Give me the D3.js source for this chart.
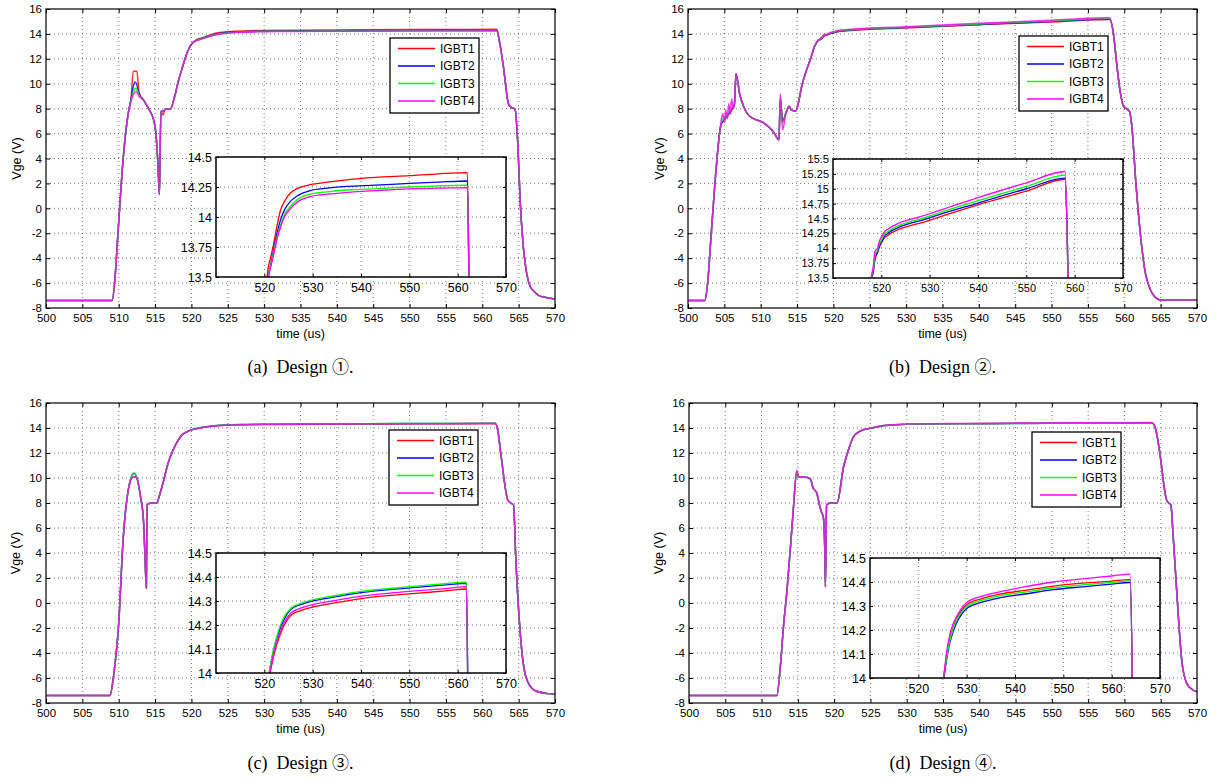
<!DOCTYPE html>
<html>
<head>
<meta charset="utf-8">
<script src="https://cdn.jsdelivr.net/npm/d3@7"></script>
<style>
body { margin: 0; background: #fff; }
svg text { font-family: "Liberation Sans", Arial, Helvetica, sans-serif; }
.grid { stroke: #555; stroke-width: 0.8; stroke-dasharray: 1,3; }
svg text.caption { font-family: "Liberation Serif", "Times New Roman", serif; white-space: pre; }
svg text.caption tspan.num { font-family: "Noto Sans CJK JP", "DejaVu Sans", sans-serif; }
</style>
</head>
<body>
<svg width="1216" height="780"></svg>
<script>
var names = ["IGBT1", "IGBT2", "IGBT3", "IGBT4"];
var colors = ["#ff0000", "#0000ff", "#00ff00", "#ff00ff"];

var mainXTicks = [500, 505, 510, 515, 520, 525, 530, 535, 540, 545, 550, 555, 560, 565, 570];
var mainYTicks = [-8, -6, -4, -2, 0, 2, 4, 6, 8, 10, 12, 14, 16];
var insetXTicks = [520, 530, 540, 550, 560, 570];
var insetYTicksA = [13.5, 13.75, 14, 14.25, 14.5];
var insetYTicksB = [13.5, 13.75, 14, 14.25, 14.5, 14.75, 15, 15.25, 15.5];
var insetYTicksC = [14, 14.1, 14.2, 14.3, 14.4, 14.5];
var insetYTicksD = [14, 14.1, 14.2, 14.3, 14.4, 14.5];

// (a) Design 1
var timeA = [500, 509.1, 509.5, 509.9, 510.6, 511.3, 511.7, 512.0, 512.3, 512.5, 512.8, 513.4, 514.2, 514.8, 515.1, 515.4, 515.6, 515.8, 516.1, 516.4,
  517.1, 517.7, 518.2, 518.7, 519.3, 519.8, 520.2, 520.7, 521.3, 521.9, 522.6, 523.3, 524.3, 525.4, 527.0, 529.5, 533.0, 537.1, 543.0, 550.0,
  556.0, 562.0, 562.3, 562.9, 563.6, 564.0, 564.5, 564.9, 565.2, 565.6, 566.1, 566.6, 567.0, 567.8, 568.9, 570.0];
var vgeA1 = [-7.4, -7.4, -5.5, -2.0, 3.9, 7.6, 8.8, 11.0, 11.0, 11.0, 9.3, 8.7, 7.9, 7.1, 6.1, 3.5, 1.1, 7.8, 7.5, 7.95,
  7.95, 9.0, 10.2, 11.2, 12.3, 13.0, 13.3, 13.55, 13.66, 13.77, 13.92, 14.05, 14.14, 14.2, 14.24, 14.27, 14.29, 14.31, 14.33, 14.345,
  14.36, 14.37, 13.6, 11.4, 8.4, 8.1, 7.95, 5.0, 0.7, -2.8, -5.2, -6.3, -6.6, -7.0, -7.17, -7.27];
var vgeA2 = [-7.4, -7.4, -5.5, -2.0, 3.9, 7.6, 8.8, 9.8, 10.15, 9.9, 9.2, 8.7, 7.9, 7.1, 6.1, 3.5, 1.1, 7.8, 7.8, 7.95,
  7.95, 9.0, 10.2, 11.2, 12.3, 13.0, 13.3, 13.48, 13.6, 13.72, 13.86, 13.97, 14.07, 14.13, 14.18, 14.22, 14.24, 14.255, 14.265, 14.28,
  14.29, 14.30, 13.6, 11.4, 8.4, 8.1, 7.95, 5.0, 0.7, -2.8, -5.2, -6.3, -6.6, -7.0, -7.17, -7.27];
var vgeA3 = [-7.4, -7.4, -5.5, -2.0, 3.9, 7.6, 8.7, 9.3, 9.65, 9.5, 9.1, 8.7, 7.9, 7.1, 6.1, 3.5, 1.1, 7.8, 7.8, 7.95,
  7.95, 9.0, 10.2, 11.2, 12.3, 13.0, 13.3, 13.47, 13.59, 13.70, 13.83, 13.93, 14.03, 14.09, 14.15, 14.19, 14.21, 14.225, 14.235, 14.25,
  14.26, 14.265, 13.6, 11.4, 8.4, 8.1, 7.95, 5.0, 0.7, -2.8, -5.2, -6.3, -6.6, -7.0, -7.17, -7.27];
var vgeA4 = [-7.4, -7.4, -5.5, -2.0, 3.9, 7.6, 8.6, 9.1, 9.35, 9.3, 9.0, 8.7, 7.9, 7.1, 6.1, 3.5, 1.1, 7.8, 7.8, 7.95,
  7.95, 9.0, 10.2, 11.2, 12.3, 13.0, 13.3, 13.46, 13.58, 13.68, 13.81, 13.91, 14.01, 14.07, 14.13, 14.17, 14.19, 14.205, 14.22, 14.235,
  14.24, 14.245, 13.6, 11.4, 8.4, 8.1, 7.95, 5.0, 0.7, -2.8, -5.2, -6.3, -6.6, -7.0, -7.17, -7.27];

// (b) Design 2
var timeB = [500, 502.3, 502.7, 503.2, 503.9, 504.4, 504.6, 504.8, 505.0, 505.2, 505.4, 505.6, 505.8, 506.0, 506.2, 506.4, 506.6, 507.1, 507.7, 508.3,
  509.0, 510.3, 511.5, 511.9, 512.5, 512.7, 513.0, 513.5, 513.9, 514.2, 514.8, 515.2, 515.6, 516.3, 516.8, 517.4, 517.9, 518.3, 518.7, 519.2,
  519.6, 520.1, 520.8, 530.0, 540.0, 550.0, 558.0, 558.5, 559.0, 559.4, 559.9, 560.3, 560.7, 561.0, 561.6, 562.2, 562.9, 563.6, 564.2, 564.9, 570.0];
var vgeB1 = [-7.4, -7.4, -6.0, -2.0, 3.4, 6.3, 6.8, 7.0, 7.0, 7.3, 7.3, 7.6, 7.6, 7.9, 8.0, 8.3, 10.8, 9.2, 8.1, 7.5,
  7.2, 6.9, 6.3, 6.0, 5.5, 8.8, 7.0, 7.7, 8.2, 7.9, 7.8, 8.5, 9.7, 11.1, 11.9, 13.0, 13.47, 13.58, 13.82, 13.92,
  14.02, 14.1, 14.19, 14.47, 14.73, 14.96, 15.16, 14.05, 11.4, 9.5, 8.2, 8.0, 7.8, 6.8, 2.0, -2.0, -5.2, -6.55, -7.1, -7.35, -7.35];
var vgeB2 = [-7.4, -7.4, -6.0, -2.0, 3.4, 6.3, 6.8, 7.0, 7.1, 7.3, 7.4, 7.6, 7.7, 8.0, 8.1, 8.4, 10.8, 9.2, 8.1, 7.5,
  7.2, 6.9, 6.3, 6.0, 5.5, 8.8, 7.0, 7.7, 8.2, 7.9, 7.8, 8.5, 9.7, 11.1, 11.9, 13.0, 13.48, 13.6, 13.84, 13.94,
  14.04, 14.12, 14.22, 14.51, 14.76, 15.0, 15.18, 14.05, 11.4, 9.5, 8.2, 8.0, 7.8, 6.8, 2.0, -2.0, -5.2, -6.55, -7.1, -7.35, -7.35];
var vgeB3 = [-7.4, -7.4, -6.0, -2.0, 3.4, 6.3, 6.9, 7.2, 7.1, 7.5, 7.4, 7.8, 7.7, 8.1, 8.1, 8.5, 10.8, 9.2, 8.1, 7.5,
  7.2, 6.9, 6.3, 6.0, 5.5, 8.9, 6.8, 7.7, 8.2, 7.9, 7.8, 8.5, 9.7, 11.1, 11.9, 13.0, 13.5, 13.63, 13.88, 13.97,
  14.07, 14.15, 14.25, 14.54, 14.80, 15.04, 15.23, 14.05, 11.4, 9.5, 8.2, 8.0, 7.8, 6.8, 2.0, -2.0, -5.2, -6.55, -7.1, -7.35, -7.35];
var vgeB4 = [-7.4, -7.4, -6.0, -2.0, 3.4, 6.3, 7.2, 7.6, 6.9, 7.9, 7.2, 8.4, 7.6, 8.8, 8.0, 8.7, 10.8, 9.2, 8.1, 7.5,
  7.2, 6.9, 6.3, 6.0, 5.5, 9.2, 6.3, 7.7, 8.2, 7.9, 7.8, 8.5, 9.7, 11.1, 11.9, 13.0, 13.5, 13.68, 13.95, 14.0,
  14.12, 14.2, 14.29, 14.58, 14.85, 15.1, 15.29, 14.05, 11.4, 9.5, 8.2, 8.0, 7.8, 6.8, 2.0, -2.0, -5.2, -6.55, -7.1, -7.35, -7.35];

// (c) Design 3
var timeC = [500, 508.8, 509.3, 510.0, 510.6, 511.3, 511.8, 512.0, 512.2, 512.5, 513.0, 513.4, 513.6, 513.8, 513.9, 514.5, 515.2, 515.7, 516.2, 516.8,
  517.5, 518.1, 518.7, 519.4, 520.0, 520.5, 521.0, 521.6, 522.3, 523.0, 524.0, 525.5, 527.5, 530.0, 534.0, 540.0, 546.0, 552.0, 558.0, 561.8,
  562.1, 562.6, 563.5, 563.9, 564.3, 564.6, 565.3, 566.0, 567.2, 569.1, 570.0];
var vgeC1 = [-7.4, -7.4, -5.8, -1.6, 5.0, 9.0, 10.0, 10.1, 10.1, 10.0, 8.5, 6.65, 4.0, 1.2, 7.85, 8.0, 8.0, 8.8, 9.85, 11.2,
  12.26, 12.95, 13.45, 13.7, 13.85, 13.93, 13.98, 14.04, 14.10, 14.145, 14.195, 14.24, 14.26, 14.275, 14.29, 14.31, 14.323, 14.333, 14.343, 14.35,
  13.9, 11.7, 8.25, 8.0, 7.85, 3.7, -2.97, -5.9, -7.0, -7.25, -7.3];
var vgeC2 = [-7.4, -7.4, -5.8, -1.6, 5.0, 9.0, 10.2, 10.35, 10.35, 10.0, 8.5, 6.65, 4.0, 1.2, 7.85, 8.0, 8.0, 8.8, 9.85, 11.2,
  12.26, 12.95, 13.45, 13.7, 13.85, 13.94, 14.0, 14.065, 14.125, 14.17, 14.22, 14.265, 14.285, 14.30, 14.315, 14.335, 14.347, 14.358, 14.368, 14.374,
  13.9, 11.7, 8.25, 8.0, 7.85, 3.7, -2.97, -5.9, -7.0, -7.25, -7.3];
var vgeC3 = [-7.4, -7.4, -5.8, -1.6, 5.0, 9.0, 10.2, 10.4, 10.4, 10.0, 8.5, 6.65, 4.0, 1.2, 7.85, 8.0, 8.0, 8.8, 9.85, 11.2,
  12.26, 12.95, 13.45, 13.7, 13.85, 13.94, 14.0, 14.07, 14.13, 14.18, 14.23, 14.27, 14.29, 14.305, 14.32, 14.34, 14.352, 14.363, 14.373, 14.379,
  13.9, 11.7, 8.25, 8.0, 7.85, 3.7, -2.97, -5.9, -7.0, -7.25, -7.3];
var vgeC4 = [-7.4, -7.4, -5.8, -1.6, 5.0, 9.0, 10.0, 10.1, 10.1, 10.0, 8.5, 6.65, 4.0, 1.2, 7.85, 8.0, 8.0, 8.8, 9.85, 11.2,
  12.26, 12.95, 13.45, 13.7, 13.85, 13.93, 13.99, 14.05, 14.11, 14.155, 14.205, 14.25, 14.27, 14.285, 14.30, 14.32, 14.333, 14.343, 14.353, 14.36,
  13.9, 11.7, 8.25, 8.0, 7.85, 3.7, -2.97, -5.9, -7.0, -7.25, -7.3];

// (d) Design 4
var timeD = [500, 512.1, 512.6, 513.0, 513.5, 514.0, 514.4, 514.85, 515.07, 515.5, 516.2, 516.7, 517.1, 517.6, 518.0, 518.3, 518.5, 518.7, 518.8, 518.95,
  519.5, 520.4, 521.3, 522.0, 522.65, 523.3, 524.0, 524.6, 525.2, 525.8, 526.5, 527.3, 528.3, 530.0, 533.0, 537.0, 542.0, 548.0, 554.0, 560.0,
  563.8, 564.3, 564.95, 565.4, 565.8, 566.1, 566.4, 566.7, 567.2, 567.9, 568.6, 569.3, 570.0];
var vgeD1 = [-7.4, -7.4, -5.0, -2.0, 1.0, 4.6, 7.7, 10.5, 10.1, 10.1, 10.05, 9.95, 9.2, 8.8, 7.8, 7.2, 6.9, 4.5, 1.3, 7.85,
  8.0, 8.0, 10.9, 12.3, 13.3, 13.65, 13.86, 13.95, 14.0, 14.085, 14.16, 14.215, 14.26, 14.305, 14.33, 14.35, 14.365, 14.383, 14.395, 14.404,
  14.41, 13.9, 11.7, 9.6, 8.25, 8.0, 7.85, 5.5, 1.0, -4.6, -6.45, -6.9, -7.1];
var vgeD2 = [-7.4, -7.4, -5.0, -2.0, 1.0, 4.6, 7.7, 10.5, 10.1, 10.1, 10.05, 9.95, 9.2, 8.8, 7.8, 7.2, 6.9, 4.5, 1.3, 7.85,
  8.0, 8.0, 10.9, 12.3, 13.3, 13.65, 13.86, 13.94, 13.99, 14.07, 14.145, 14.2, 14.245, 14.29, 14.315, 14.335, 14.35, 14.368, 14.38, 14.391,
  14.398, 13.9, 11.7, 9.6, 8.25, 8.0, 7.85, 5.5, 1.0, -4.6, -6.45, -6.9, -7.1];
var vgeD3 = [-7.4, -7.4, -5.0, -2.0, 1.0, 4.6, 7.7, 10.5, 10.1, 10.1, 10.05, 9.95, 9.2, 8.8, 7.8, 7.2, 6.9, 4.5, 1.3, 7.85,
  8.0, 8.0, 10.9, 12.3, 13.3, 13.65, 13.86, 13.95, 14.0, 14.08, 14.155, 14.21, 14.255, 14.298, 14.323, 14.343, 14.358, 14.376, 14.388, 14.398,
  14.405, 13.9, 11.7, 9.6, 8.25, 8.0, 7.85, 5.5, 1.0, -4.6, -6.45, -6.9, -7.1];
var vgeD4 = [-7.4, -7.4, -5.0, -2.0, 1.0, 4.6, 7.7, 10.65, 10.1, 10.1, 10.05, 9.95, 9.2, 8.8, 7.8, 7.2, 6.9, 4.5, 1.3, 7.85,
  8.0, 8.0, 10.9, 12.3, 13.3, 13.65, 13.86, 13.95, 14.0, 14.1, 14.18, 14.23, 14.27, 14.315, 14.34, 14.36, 14.38, 14.40, 14.413, 14.425,
  14.433, 13.9, 11.7, 9.6, 8.25, 8.0, 7.85, 5.5, 1.0, -4.6, -6.45, -6.9, -7.1];

var svg = d3.select("svg");
var fmt = function(d) { return String(d); };

var panels = [
  { id: "a", time: timeA, vge: [vgeA1, vgeA2, vgeA3, vgeA4], left: 46, right: 555, top: 9, bottom: 308,
    inset: { x: 216, y: 157, w: 290, h: 120, dom: [13.5, 14.5], ticks: insetYTicksA, font: 12.5 },
    legend: { x: 390, y: 38 }, ylab: 17, label: "(a)", num: "\u2460", capY: 373 },
  { id: "b", time: timeB, vge: [vgeB1, vgeB2, vgeB3, vgeB4], left: 688, right: 1197, top: 9, bottom: 308,
    inset: { x: 833, y: 159, w: 290, h: 119, dom: [13.5, 15.5], ticks: insetYTicksB, font: 11 },
    legend: { x: 1019, y: 36 }, ylab: 660, label: "(b)", num: "\u2461", capY: 373 },
  { id: "c", time: timeC, vge: [vgeC1, vgeC2, vgeC3, vgeC4], left: 46, right: 555, top: 403, bottom: 703,
    inset: { x: 216, y: 553, w: 290, h: 120, dom: [14, 14.5], ticks: insetYTicksC, font: 12.5 },
    legend: { x: 389, y: 430 }, ylab: 16, label: "(c)", num: "\u2462", capY: 769 },
  { id: "d", time: timeD, vge: [vgeD1, vgeD2, vgeD3, vgeD4], left: 689, right: 1197, top: 403, bottom: 703,
    inset: { x: 870, y: 558, w: 290, h: 120, dom: [14, 14.5], ticks: insetYTicksD, font: 12.5 },
    legend: { x: 1032, y: 432 }, ylab: 659, label: "(d)", num: "\u2463", capY: 769 }
];

function drawAxes(g, x, y, xt, yt, x0, x1, y0, y1, tick, font) {
  var ax = g.append("g").attr("transform", "translate(0," + y1 + ")")
    .call(d3.axisBottom(x).tickValues(xt).tickSizeInner(-tick).tickSizeOuter(0).tickPadding(6).tickFormat(fmt));
  var ay = g.append("g").attr("transform", "translate(" + x0 + ",0)")
    .call(d3.axisLeft(y).tickValues(yt).tickSizeInner(-tick).tickSizeOuter(0).tickPadding(4).tickFormat(fmt));
  var at = g.append("g").attr("transform", "translate(0," + y0 + ")")
    .call(d3.axisTop(x).tickValues(xt).tickSizeInner(-tick).tickSizeOuter(0).tickFormat(""));
  var ar = g.append("g").attr("transform", "translate(" + x1 + ",0)")
    .call(d3.axisRight(y).tickValues(yt).tickSizeInner(-tick).tickSizeOuter(0).tickFormat(""));
  [ax, ay, at, ar].forEach(function(a) {
    a.select(".domain").remove();
    a.attr("font-family", null).attr("font-size", font);
    a.selectAll("text").attr("fill", "#000");
  });
}

panels.forEach(function(p) {
  var g = svg.append("g").attr("class", "panel-" + p.id);
  var x = d3.scaleLinear().domain([500, 570]).range([p.left, p.right]);
  var y = d3.scaleLinear().domain([-8, 16]).range([p.bottom, p.top]);

  // grid
  g.append("g").selectAll("line").data(mainXTicks.slice(1, -1)).join("line")
    .attr("class", "grid").attr("x1", function(d) { return x(d); }).attr("x2", function(d) { return x(d); })
    .attr("y1", p.top).attr("y2", p.bottom);
  g.append("g").selectAll("line").data(mainYTicks.slice(1, -1)).join("line")
    .attr("class", "grid").attr("y1", function(d) { return y(d); }).attr("y2", function(d) { return y(d); })
    .attr("x1", p.left).attr("x2", p.right);

  // curves
  g.append("clipPath").attr("id", "clip-" + p.id).append("rect")
    .attr("x", p.left).attr("y", p.top).attr("width", p.right - p.left).attr("height", p.bottom - p.top);
  var line = d3.line().curve(d3.curveMonotoneX)
    .x(function(d, i) { return x(p.time[i]); })
    .y(function(d) { return y(d); });
  var curves = g.append("g").attr("clip-path", "url(#clip-" + p.id + ")");
  p.vge.forEach(function(vals, k) {
    curves.append("path").datum(vals)
      .attr("d", line).attr("fill", "none")
      .attr("stroke", colors[k]).attr("stroke-width", 1.5).attr("stroke-opacity", 0.8);
  });

  drawAxes(g, x, y, mainXTicks, mainYTicks, p.left, p.right, p.top, p.bottom, 4, 11.5);
  g.append("rect").attr("x", p.left).attr("y", p.top).attr("width", p.right - p.left).attr("height", p.bottom - p.top)
    .attr("fill", "none").attr("stroke", "#000").attr("stroke-width", 1.2);

  g.append("text").attr("x", (p.left + p.right) / 2).attr("y", p.bottom + 26).attr("dy", "0.35em")
    .attr("text-anchor", "middle").attr("font-size", 12.5).text("time (us)");
  g.append("text").attr("transform", "translate(" + p.ylab + "," + ((p.top + p.bottom) / 2) + ") rotate(-90)")
    .attr("dy", "0.35em").attr("text-anchor", "middle").attr("font-size", 12.5).text("Vge (V)");

  // inset
  var ins = p.inset;
  var xi = d3.scaleLinear().domain([510, 570]).range([ins.x, ins.x + ins.w]);
  var yi = d3.scaleLinear().domain(ins.dom).range([ins.y + ins.h, ins.y]);
  var gi = g.append("g").attr("class", "inset");
  gi.append("rect").attr("x", ins.x).attr("y", ins.y).attr("width", ins.w).attr("height", ins.h).attr("fill", "#fff");
  gi.append("g").selectAll("line").data(insetXTicks.slice(0, -1)).join("line")
    .attr("class", "grid").attr("x1", function(d) { return xi(d); }).attr("x2", function(d) { return xi(d); })
    .attr("y1", ins.y).attr("y2", ins.y + ins.h);
  gi.append("g").selectAll("line").data(ins.ticks.slice(1, -1)).join("line")
    .attr("class", "grid").attr("y1", function(d) { return yi(d); }).attr("y2", function(d) { return yi(d); })
    .attr("x1", ins.x).attr("x2", ins.x + ins.w);
  gi.append("clipPath").attr("id", "clipi-" + p.id).append("rect")
    .attr("x", ins.x).attr("y", ins.y).attr("width", ins.w).attr("height", ins.h);
  var linei = d3.line().curve(d3.curveMonotoneX)
    .x(function(d, i) { return xi(p.time[i]); })
    .y(function(d) { return yi(d); });
  var ci = gi.append("g").attr("clip-path", "url(#clipi-" + p.id + ")");
  p.vge.forEach(function(vals, k) {
    ci.append("path").datum(vals)
      .attr("d", linei).attr("fill", "none")
      .attr("stroke", colors[k]).attr("stroke-width", 1.3);
  });
  drawAxes(gi, xi, yi, insetXTicks, ins.ticks, ins.x, ins.x + ins.w, ins.y, ins.y + ins.h, 3, ins.font);
  gi.append("rect").attr("x", ins.x).attr("y", ins.y).attr("width", ins.w).attr("height", ins.h)
    .attr("fill", "none").attr("stroke", "#000").attr("stroke-width", 1.5);

  // legend
  var lg = g.append("g").attr("transform", "translate(" + p.legend.x + "," + p.legend.y + ")");
  lg.append("rect").attr("width", 89).attr("height", 75).attr("fill", "#fff")
    .attr("stroke", "#000").attr("stroke-width", 1.3);
  names.forEach(function(n, k) {
    var yy = 10.5 + k * 17.5;
    lg.append("line").attr("x1", 8).attr("x2", 45).attr("y1", yy).attr("y2", yy)
      .attr("stroke", colors[k]).attr("stroke-width", 1.3);
    lg.append("text").attr("x", 50).attr("y", yy).attr("dy", "0.36em").attr("font-size", 12).text(n);
  });

  // caption
  var cap = svg.append("text").attr("class", "caption").attr("x", (p.left + p.right) / 2).attr("y", p.capY)
    .attr("text-anchor", "middle").attr("font-size", 18);
  cap.append("tspan").text(p.label + "\u2002Design ");
  cap.append("tspan").attr("class", "num").attr("font-size", 17).text(p.num);
  cap.append("tspan").text(".");
});
</script>
</body>
</html>
